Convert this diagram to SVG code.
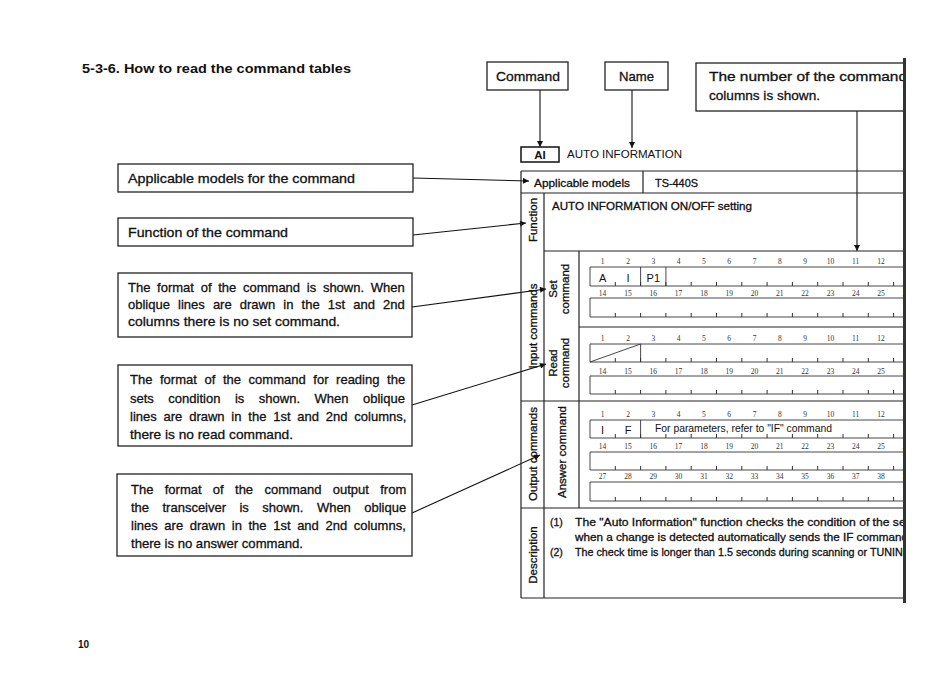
<svg xmlns="http://www.w3.org/2000/svg" width="937" height="687" viewBox="0 0 937 687">
<defs>
<marker id="ah" viewBox="0 0 10 10" refX="10" refY="5" markerWidth="8" markerHeight="6" markerUnits="userSpaceOnUse" orient="auto"><path d="M0,0 L10,5 L0,10 z" fill="#111"/></marker>
<clipPath id="pg"><rect x="0" y="0" width="903.5" height="687"/></clipPath>
<path id="tk" d="M615.3,0v-4M640.6,0v-4M665.9,0v-4M691.2,0v-4M716.5,0v-4M741.8,0v-4M767.1,0v-4M792.4,0v-4M817.7,0v-4M843,0v-4M868.3,0v-4M893.6,0v-4" stroke="#333" stroke-width="1" fill="none"/>
</defs>
<style>
.t{font-family:"Liberation Sans",Arial,sans-serif;fill:#111;}
.m{stroke:#111;stroke-width:0.3;}
.n{font-family:"Liberation Serif","Times New Roman",serif;font-size:7.5px;fill:#333;text-anchor:middle;}
.ln{stroke:#222;stroke-width:1.2;fill:none;}
.th{stroke:#333;stroke-width:0.9;fill:none;}
.bx{fill:#fff;stroke:#222;stroke-width:1.3;}
.cn{stroke:#111;stroke-width:1.1;fill:none;marker-end:url(#ah);}
</style>
<rect width="937" height="687" fill="#fff"/>

<text class="t" x="82" y="73" font-size="12.5" font-weight="bold" textLength="269" lengthAdjust="spacingAndGlyphs">5-3-6. How to read the command tables</text>
<text class="t" x="78" y="648" font-size="10" font-weight="bold">10</text>

<g id="connectors">
<path class="cn" d="M540,90V147"/>
<path class="cn" d="M632,90V148"/>
<path class="cn" d="M857,111V251"/>
<path class="cn" d="M413,178L529,181"/>
<path class="cn" d="M413,235L526,223"/>
<path class="cn" d="M412,307L546,289"/>
<path class="cn" d="M412,405L546,364"/>
<path class="cn" d="M412,513L540,455"/>
</g>

<g id="node-command">
<rect class="bx" x="487" y="62" width="81" height="28"/>
<text class="t m" x="496" y="81" font-size="13" textLength="64" lengthAdjust="spacingAndGlyphs">Command</text>
</g>
<g id="node-name">
<rect class="bx" x="605" y="62" width="63" height="28"/>
<text class="t m" x="619" y="81" font-size="13" textLength="35" lengthAdjust="spacingAndGlyphs">Name</text>
</g>
<g id="node-columns" clip-path="url(#pg)">
<rect class="bx" x="696" y="63" width="215" height="48"/>
<text class="t m" x="709" y="81" font-size="13" textLength="198" lengthAdjust="spacingAndGlyphs">The number of the command</text>
<text class="t m" x="709" y="100" font-size="13" textLength="111" lengthAdjust="spacingAndGlyphs">columns is shown.</text>
</g>

<g id="node-models">
<rect class="bx" x="118" y="164" width="295" height="28"/>
<text class="t m" x="128" y="183" font-size="13" textLength="227" lengthAdjust="spacingAndGlyphs">Applicable models for the command</text>
</g>
<g id="node-function">
<rect class="bx" x="118" y="218" width="295" height="28"/>
<text class="t m" x="128" y="237" font-size="13" textLength="160" lengthAdjust="spacingAndGlyphs">Function of the command</text>
</g>
<g id="node-set">
<rect class="bx" x="118" y="273" width="294" height="64"/>
<text class="t m" x="128" y="292" font-size="13" word-spacing="3.1">The format of the command is shown. When</text>
<text class="t m" x="128" y="309" font-size="13" word-spacing="4.5">oblique lines are drawn in the 1st and 2nd</text>
<text class="t m" x="128" y="326" font-size="13" textLength="212" lengthAdjust="spacingAndGlyphs">columns there is no set command.</text>
</g>
<g id="node-read">
<rect class="bx" x="118" y="365" width="294" height="81"/>
<text class="t m" x="130" y="384" font-size="13" word-spacing="4">The format of the command for reading the</text>
<text class="t m" x="130" y="403" font-size="13" word-spacing="10.9">sets condition is shown. When oblique</text>
<text class="t m" x="130" y="421" font-size="13" word-spacing="3.2">lines are drawn in the 1st and 2nd columns,</text>
<text class="t m" x="130" y="439" font-size="13" textLength="163" lengthAdjust="spacingAndGlyphs">there is no read command.</text>
</g>
<g id="node-answer">
<rect class="bx" x="117" y="474" width="295" height="82"/>
<text class="t m" x="131" y="494" font-size="13" word-spacing="7.7">The format of the command output from</text>
<text class="t m" x="131" y="512" font-size="13" word-spacing="9.8">the transceiver is shown. When oblique</text>
<text class="t m" x="131" y="530" font-size="13" word-spacing="3">lines are drawn in the 1st and 2nd columns,</text>
<text class="t m" x="131" y="548" font-size="13" textLength="172" lengthAdjust="spacingAndGlyphs">there is no answer command.</text>
</g>

<g id="node-header">
<rect x="521" y="147" width="38" height="15" fill="#fff" stroke="#111" stroke-width="1.5"/>
<text class="t" x="540" y="159" font-size="11.5" font-weight="bold" text-anchor="middle">AI</text>
<text class="t" x="567" y="158" font-size="11.5" textLength="115" lengthAdjust="spacingAndGlyphs">AUTO INFORMATION</text>
</g>

<g id="node-table" clip-path="url(#pg)">
<path class="ln" d="M521,171H906M521,193H906M544,251H906M579,327H906M521,401H906M521,508H906M521,598H906M521,171V598M544,193V598M579,251V508M643,171V193"/>
<text class="t m" x="534" y="187" font-size="11" textLength="96" lengthAdjust="spacingAndGlyphs">Applicable models</text>
<text class="t m" x="655" y="187" font-size="11" textLength="43" lengthAdjust="spacingAndGlyphs">TS-440S</text>
<text class="t m" x="552" y="210" font-size="11" textLength="200" lengthAdjust="spacingAndGlyphs">AUTO INFORMATION ON/OFF setting</text>

<text class="t m" transform="translate(537,220) rotate(-90)" font-size="11.5" text-anchor="middle">Function</text>
<text class="t m" transform="translate(537,326) rotate(-90)" font-size="11.5" text-anchor="middle">Input commands</text>
<text class="t m" transform="translate(557,289) rotate(-90)" font-size="11.5" text-anchor="middle">Set</text>
<text class="t m" transform="translate(569,289) rotate(-90)" font-size="11.5" text-anchor="middle">command</text>
<text class="t m" transform="translate(557,363) rotate(-90)" font-size="11.5" text-anchor="middle">Read</text>
<text class="t m" transform="translate(569,363) rotate(-90)" font-size="11.5" text-anchor="middle">command</text>
<text class="t m" transform="translate(537,454) rotate(-90)" font-size="11.5" text-anchor="middle">Output commands</text>
<text class="t m" transform="translate(566,452) rotate(-90)" font-size="11.5" text-anchor="middle">Answer command</text>
<text class="t m" transform="translate(537,555) rotate(-90)" font-size="11.5" text-anchor="middle">Description</text>

<path class="th" d="M590,267H906M590,286H906M590,267V286M590,298H906M590,317H906M590,298V317M590,344H906M590,362H906M590,344V362M590,376H906M590,394H906M590,376V394M590,420H906M590,438H906M590,420V438M590,452H906M590,470H906M590,452V470M590,482H906M590,501H906M590,482V501"/>
<use href="#tk" y="286"/><use href="#tk" y="317"/><use href="#tk" y="362"/><use href="#tk" y="394"/><use href="#tk" y="438"/><use href="#tk" y="470"/><use href="#tk" y="501"/>
<path class="th" d="M640.6,267V286M665.9,267V286M640.6,344V362M590,362L640.6,344M640.6,420V438"/>

<text class="t" x="602.6" y="282" font-family="Liberation Serif" font-size="11" text-anchor="middle">A</text>
<text class="t" x="628" y="282" font-family="Liberation Serif" font-size="11" text-anchor="middle">I</text>
<text class="t" x="653.3" y="282" font-family="Liberation Serif" font-size="11" text-anchor="middle">P1</text>
<text class="t" x="602.6" y="434" font-family="Liberation Serif" font-size="11" text-anchor="middle">I</text>
<text class="t" x="628" y="434" font-family="Liberation Serif" font-size="11" text-anchor="middle">F</text>
<text class="t" x="655" y="432" font-size="10" textLength="177" lengthAdjust="spacingAndGlyphs">For parameters, refer to "IF" command</text>

<g id="nums-set1"><text class="n" x="602.6" y="264">1</text><text class="n" x="628" y="264">2</text><text class="n" x="653.3" y="264">3</text><text class="n" x="678.6" y="264">4</text><text class="n" x="703.9" y="264">5</text><text class="n" x="729.2" y="264">6</text><text class="n" x="754.5" y="264">7</text><text class="n" x="779.8" y="264">8</text><text class="n" x="805.1" y="264">9</text><text class="n" x="830.4" y="264">10</text><text class="n" x="855.7" y="264">11</text><text class="n" x="881" y="264">12</text><text class="n" x="906.3" y="264">13</text></g>
<g id="nums-set2"><text class="n" x="602.6" y="296">14</text><text class="n" x="628" y="296">15</text><text class="n" x="653.3" y="296">16</text><text class="n" x="678.6" y="296">17</text><text class="n" x="703.9" y="296">18</text><text class="n" x="729.2" y="296">19</text><text class="n" x="754.5" y="296">20</text><text class="n" x="779.8" y="296">21</text><text class="n" x="805.1" y="296">22</text><text class="n" x="830.4" y="296">23</text><text class="n" x="855.7" y="296">24</text><text class="n" x="881" y="296">25</text><text class="n" x="906.3" y="296">26</text></g>
<g id="nums-read1"><text class="n" x="602.6" y="341">1</text><text class="n" x="628" y="341">2</text><text class="n" x="653.3" y="341">3</text><text class="n" x="678.6" y="341">4</text><text class="n" x="703.9" y="341">5</text><text class="n" x="729.2" y="341">6</text><text class="n" x="754.5" y="341">7</text><text class="n" x="779.8" y="341">8</text><text class="n" x="805.1" y="341">9</text><text class="n" x="830.4" y="341">10</text><text class="n" x="855.7" y="341">11</text><text class="n" x="881" y="341">12</text><text class="n" x="906.3" y="341">13</text></g>
<g id="nums-read2"><text class="n" x="602.6" y="374">14</text><text class="n" x="628" y="374">15</text><text class="n" x="653.3" y="374">16</text><text class="n" x="678.6" y="374">17</text><text class="n" x="703.9" y="374">18</text><text class="n" x="729.2" y="374">19</text><text class="n" x="754.5" y="374">20</text><text class="n" x="779.8" y="374">21</text><text class="n" x="805.1" y="374">22</text><text class="n" x="830.4" y="374">23</text><text class="n" x="855.7" y="374">24</text><text class="n" x="881" y="374">25</text><text class="n" x="906.3" y="374">26</text></g>
<g id="nums-ans1"><text class="n" x="602.6" y="417">1</text><text class="n" x="628" y="417">2</text><text class="n" x="653.3" y="417">3</text><text class="n" x="678.6" y="417">4</text><text class="n" x="703.9" y="417">5</text><text class="n" x="729.2" y="417">6</text><text class="n" x="754.5" y="417">7</text><text class="n" x="779.8" y="417">8</text><text class="n" x="805.1" y="417">9</text><text class="n" x="830.4" y="417">10</text><text class="n" x="855.7" y="417">11</text><text class="n" x="881" y="417">12</text><text class="n" x="906.3" y="417">13</text></g>
<g id="nums-ans2"><text class="n" x="602.6" y="449">14</text><text class="n" x="628" y="449">15</text><text class="n" x="653.3" y="449">16</text><text class="n" x="678.6" y="449">17</text><text class="n" x="703.9" y="449">18</text><text class="n" x="729.2" y="449">19</text><text class="n" x="754.5" y="449">20</text><text class="n" x="779.8" y="449">21</text><text class="n" x="805.1" y="449">22</text><text class="n" x="830.4" y="449">23</text><text class="n" x="855.7" y="449">24</text><text class="n" x="881" y="449">25</text><text class="n" x="906.3" y="449">26</text></g>
<g id="nums-ans3"><text class="n" x="602.6" y="479">27</text><text class="n" x="628" y="479">28</text><text class="n" x="653.3" y="479">29</text><text class="n" x="678.6" y="479">30</text><text class="n" x="703.9" y="479">31</text><text class="n" x="729.2" y="479">32</text><text class="n" x="754.5" y="479">33</text><text class="n" x="779.8" y="479">34</text><text class="n" x="805.1" y="479">35</text><text class="n" x="830.4" y="479">36</text><text class="n" x="855.7" y="479">37</text><text class="n" x="881" y="479">38</text><text class="n" x="906.3" y="479">39</text></g>

<text class="t m" x="550" y="526" font-size="10.5">(1)</text>
<text class="t m" x="575" y="526" font-size="10.5" textLength="334" lengthAdjust="spacingAndGlyphs">The "Auto Information" function checks the condition of the set</text>
<text class="t m" x="575" y="541" font-size="10.5" textLength="333" lengthAdjust="spacingAndGlyphs">when a change is detected automatically sends the IF command</text>
<text class="t m" x="550" y="556" font-size="10.5">(2)</text>
<text class="t m" x="575" y="556" font-size="10.5" textLength="336" lengthAdjust="spacingAndGlyphs">The check time is longer than 1.5 seconds during scanning or TUNING</text>
</g>

<path d="M904.5,58V603" stroke="#333" stroke-width="3" fill="none"/>
</svg>
